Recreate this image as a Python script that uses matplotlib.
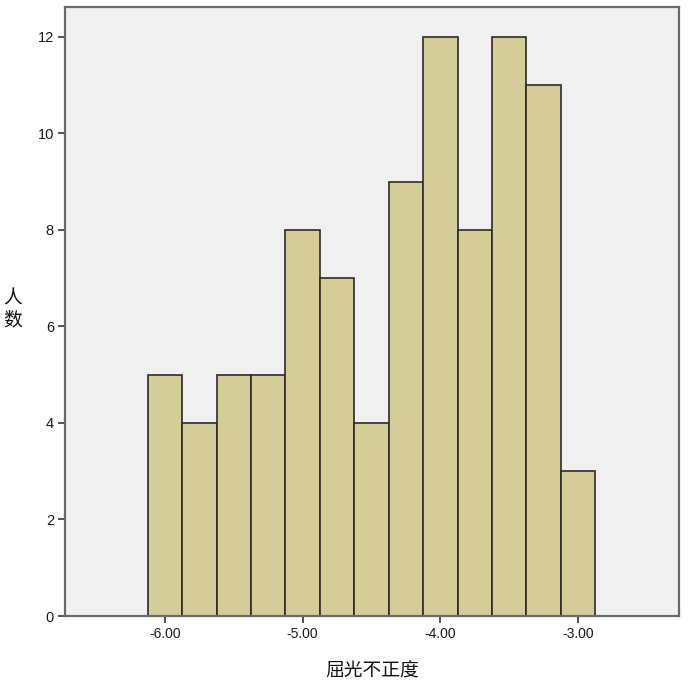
import numpy as np
import matplotlib.pyplot as plt

plt.rcParams['font.family'] = ['Noto Sans CJK SC', 'DejaVu Sans']

# histogram data: bin edges and counts
bin_start = -6.125
bin_width = 0.25
counts = [5, 4, 5, 5, 8, 7, 4, 9, 12, 8, 12, 11, 3]
xticks = [-6.0, -5.0, -4.0, -3.0]
xtick_labels = ['-6.00', '-5.00', '-4.00', '-3.00']
yticks = [0, 2, 4, 6, 8, 10, 12]

lefts = bin_start + bin_width * np.arange(len(counts))

fig = plt.figure(figsize=(6.9, 6.91), dpi=100)
ax = fig.add_axes([65 / 690, 75 / 691, 614 / 690, 609 / 691])
ax.set_facecolor('#f0f0f0')

ax.bar(lefts, counts, width=bin_width, align='edge',
       color='#d3ce97', edgecolor='#2b2b2b', linewidth=1.2)

ax.set_xlim(-6.726, -2.267)
ax.set_ylim(0, 12.62)
ax.set_xticks(xticks)
ax.set_xticklabels(xtick_labels, family='Liberation Sans', size=10)
ax.set_yticks(yticks)
ax.set_yticklabels([str(v) for v in yticks], family='Liberation Sans', size=10.5)

for s in ax.spines.values():
    s.set_color('#6a6a6a')
    s.set_linewidth(1.6)
ax.tick_params(axis='both', direction='out', length=5, width=1.2,
               color='#333333', labelcolor='#1a1a1a', pad=3)

ax.set_xlabel('屈光不正度', fontsize=13.5, color='#111111', labelpad=14)
fig.text(13 / 690, 1 - 309 / 691, '人\n数', fontsize=13.5, color='#111111',
         ha='center', va='center', linespacing=1.0)

plt.savefig('out.png', dpi=100)
